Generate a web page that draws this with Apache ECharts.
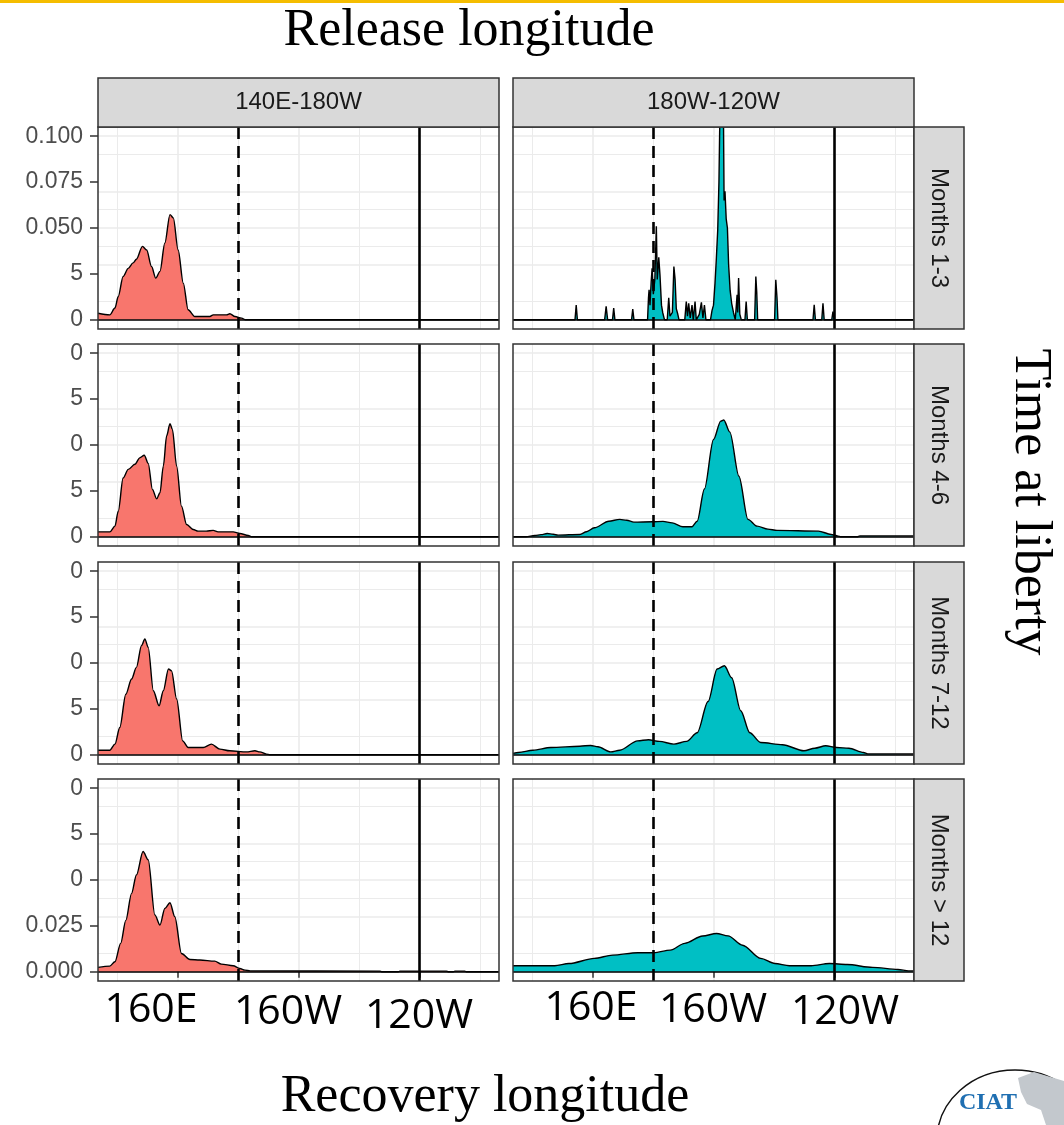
<!DOCTYPE html>
<html>
<head>
<meta charset="utf-8">
<title>Recovery longitude by release longitude and time at liberty</title>
<script src="https://cdn.jsdelivr.net/npm/echarts@6/dist/echarts.min.js"></script>
<style>
  html, body { margin: 0; padding: 0; background: #ffffff; }
  #chart { width: 1064px; height: 1125px; }
</style>
</head>
<body>
<div id="chart"></div>
<script>
const releaseBands = ["140E-180W", "180W-120W"];
const libertyBands = ["Months 1-3", "Months 4-6", "Months 7-12", "Months > 12"];
const yTickValues = [0, 0.025, 0.05, 0.075, 0.1];
const yMinorValues = [0.0125, 0.0375, 0.0625, 0.0875];
// tick labels as they appear (partly covered in the source picture)
const yTickLabels = [
  ["0", "5", "0.050", "0.075", "0.100"],
  ["0", "5", "0", "5", "0"],
  ["0", "5", "0", "5", "0"],
  ["0.000", "0.025", "0", "5", "0"]
];
const xTickValues = [160, 200, 240];
const xMinorValues = [140, 180, 220, 260];
const bigLonLabels = ["160E", "160W", "120W"];
const dateLineLon = 180;
const boundaryLon = 240;

// density of recovery longitude (deg, 0-360) — release 140E-180W
const east13 = [[133.7,0.0036],[137.6,0.0027],[139.3,0.0064],[140.4,0.0127],[142,0.0236],[143.7,0.028],[145.3,0.031],[146.4,0.033],[148.4,0.040],[149.8,0.038],[151.4,0.029],[152.8,0.0227],[154.2,0.0264],[155.8,0.0418],[157.5,0.0573],[158.6,0.0555],[160.2,0.038],[161.9,0.020],[163.5,0.0055],[165.7,0.0018],[170.7,0.0018],[171.8,0.0027],[176.2,0.0027],[177.3,0.0033],[179,0.0018],[181.2,0.0009],[182.5,0],[266.3,0]];
const east46 = [[133.7,0.0027],[137.6,0.0027],[139.3,0.0058],[140.4,0.014],[142,0.032],[143.7,0.0367],[145.9,0.0395],[147.5,0.043],[149,0.0444],[150.3,0.040],[151.7,0.0258],[153.1,0.0207],[154.2,0.024],[155.3,0.0385],[156.4,0.055],[157.5,0.0616],[158.3,0.0585],[159.7,0.0385],[161.3,0.0167],[163,0.0067],[165.2,0.004],[166.8,0.0031],[169.5,0.0031],[171.8,0.0035],[173.4,0.0027],[178.4,0.0027],[180.6,0.0018],[183.4,0.0007],[184.5,0],[266.3,0]];
const east712 = [[133.7,0.0025],[137.6,0.0025],[139.3,0.0058],[140.9,0.0149],[142.9,0.033],[144.8,0.0413],[146.4,0.0476],[148.1,0.0595],[149.2,0.0631],[150.3,0.0585],[152,0.0349],[153.9,0.0267],[155.3,0.0349],[157,0.0467],[158,0.0458],[159.7,0.0304],[161.7,0.0076],[163.5,0.004],[168.5,0.004],[171.2,0.0058],[174,0.0031],[177.3,0.0022],[182.8,0.0016],[185.6,0.0022],[187.2,0.0016],[189.4,0.0004],[190.5,0],[266.3,0]];
const east12p = [[133.7,0.0024],[137.6,0.0031],[139.3,0.0055],[141.2,0.0155],[142.9,0.028],[144.8,0.0427],[146.4,0.0527],[148.6,0.0655],[150.3,0.061],[152.5,0.031],[154.2,0.0255],[155.8,0.0345],[157.5,0.0376],[159.1,0.030],[161.3,0.010],[164.1,0.0067],[167.4,0.0064],[172.3,0.0058],[174.5,0.0042],[178.4,0.0033],[180.6,0.0018],[182.3,0.0009],[184,0.0005],[226.9,0.0004],[227.5,0],[233,0],[233.5,0.0004],[248.9,0.0004],[249.5,0],[251.2,0],[251.7,0.0004],[255,0.0004],[255.5,0],[266.3,0]];

// release 180W-120W
const west13 = [[133.7,0],[154.2,0],[154.6,0.008],[155,0],[164,0],[164.5,0.0073],[165,0],[166.6,0],[167,0.0064],[167.4,0],[172.9,0],[173.3,0.0058],[173.7,0],[178.2,0],[178.5,0.012],[178.7,0.0164],[179,0.008],[179.4,0.021],[179.7,0.028],[180.1,0.014],[180.6,0.022],[181.1,0.051],[181.4,0.022],[181.9,0.034],[182.3,0.0245],[182.8,0.008],[183.2,0.004],[183.8,0],[184.7,0],[185.2,0.012],[185.6,0.002],[186.4,0.004],[186.9,0.029],[187.3,0.022],[187.7,0.006],[188.2,0.003],[188.6,0],[190.5,0],[191,0.010],[191.4,0.002],[191.8,0.009],[192.3,0.001],[192.9,0.008],[193.3,0],[193.9,0.010],[194.3,0],[195.3,0.003],[196,0.0095],[196.5,0.001],[197,0.008],[197.5,0],[199,0],[199.5,0.005],[200,0.008],[200.5,0.02],[200.9,0.032],[201.4,0.049],[201.8,0.075],[202.1,0.11],[202.5,0.15],[203,0.15],[203.3,0.11],[203.5,0.065],[203.8,0.07],[204.2,0.055],[204.6,0.05],[205,0.03],[205.5,0.016],[206,0.009],[206.6,0.004],[207.2,0],[207.5,0],[207.8,0.0136],[208,0.004],[208.3,0.0227],[208.7,0.003],[209.2,0],[210.4,0],[210.8,0.010],[211.2,0],[213.6,0],[214,0.0236],[214.3,0.015],[214.6,0],[220.2,0],[220.6,0.0218],[221,0.012],[221.3,0],[232.9,0],[233.3,0.0082],[233.7,0],[235.8,0],[236.2,0.009],[236.6,0],[239.1,0],[239.5,0.0045],[239.9,0],[266.3,0]];
const west46 = [[133.7,0],[138,0],[140.9,0.0007],[143,0.0012],[145,0.0018],[147,0.0014],[148.6,0.0009],[155.8,0.0013],[158,0.0028],[160.6,0.0049],[165.4,0.0085],[169,0.0095],[171.3,0.009],[173.7,0.008],[179.7,0.0082],[183.3,0.0084],[186.3,0.0076],[189.9,0.0055],[192.9,0.0055],[194.6,0.0085],[197,0.026],[200,0.053],[202.4,0.063],[203.4,0.0636],[205.4,0.057],[208.4,0.033],[211.4,0.0095],[214.4,0.0058],[218,0.0042],[221,0.0035],[234.7,0.0031],[238.9,0.0013],[241.2,0.0004],[242,0],[247.5,0],[248.4,0.0005],[266.3,0.0005]];
const west712 = [[133.7,0.0008],[135.5,0.0013],[140.3,0.0025],[146.2,0.004],[155.8,0.0047],[159.4,0.0051],[161.8,0.0044],[166,0.0016],[169,0.0025],[174.9,0.0076],[178.5,0.0082],[182.1,0.0073],[186.9,0.0058],[191.1,0.0073],[194.6,0.012],[198.2,0.029],[201.2,0.0467],[203.6,0.0485],[206,0.042],[209,0.024],[212,0.012],[215.6,0.0067],[222.8,0.0055],[229.9,0.0022],[233.5,0.0036],[237.1,0.0049],[240.7,0.004],[244.8,0.0036],[249.6,0.0013],[251,0.0005],[266.3,0.0005]];
const west12p = [[133.7,0.0033],[147.5,0.0033],[152.2,0.0045],[160.6,0.0073],[166.6,0.0091],[174.9,0.0104],[180.3,0.0104],[185.7,0.0118],[190.5,0.0155],[196.4,0.0195],[201,0.0209],[204.8,0.0196],[209.6,0.0145],[215.6,0.0073],[220.3,0.0045],[225.1,0.0033],[232.3,0.0033],[238.3,0.0045],[244.2,0.004],[252.6,0.0024],[261,0.0013],[264.5,0.0005],[266.3,0.0005]];

const panelData = [
  [east13, west13],
  [east46, west46],
  [east712, west712],
  [east12p, west12p]
];
const bandColors = ["#F8766D", "#00BFC4"];

// layout
const colLeft = [98, 513];
const colWidth = 401;
const rowTop = [127, 344, 562, 779];
const rowHeight = 202;
const stripTop = 78;
const stripSize = 49;
const sideStripWidth = 50;
const lonRange = [133.7, 266.3];
const densRange = [-0.005, 0.105];
const bigLabelPos = [
  [[151, 1010], [288, 1012], [419, 1016]],
  [[591, 1008], [713, 1010], [845, 1012]]
];

const sansFont = "Liberation Sans, Arial, sans-serif";
const serifFont = "Liberation Serif, Times New Roman, serif";

function gridLines() {
  const major = { color: "#ebebeb", width: 1.6, type: "solid" };
  const minor = { color: "#ebebeb", width: 1, type: "solid" };
  return [
    ...yTickValues.map((v) => ({ yAxis: v, lineStyle: major })),
    ...yMinorValues.map((v) => ({ yAxis: v, lineStyle: minor })),
    ...xTickValues.map((v) => ({ xAxis: v, lineStyle: major })),
    ...xMinorValues.map((v) => ({ xAxis: v, lineStyle: minor }))
  ];
}

function buildPanels() {
  const grids = [];
  const xAxes = [];
  const yAxes = [];
  const series = [];

  libertyBands.forEach((_, r) => {
    releaseBands.forEach((__, c) => {
      const idx = grids.length;
      grids.push({
        left: colLeft[c], top: rowTop[r], width: colWidth, height: rowHeight,
        show: true, backgroundColor: "transparent",
        borderColor: "#333333", borderWidth: 1.5, z: 10
      });
      xAxes.push({
        gridIndex: idx, type: "value", min: lonRange[0], max: lonRange[1],
        axisLine: { show: false }, splitLine: { show: false },
        axisLabel: { show: false },
        axisTick: {
          show: r === libertyBands.length - 1, customValues: xTickValues,
          length: 6, lineStyle: { color: "#333333", width: 1.5 }
        }
      });
      yAxes.push({
        gridIndex: idx, type: "value", min: densRange[0], max: densRange[1],
        axisLine: { show: false }, splitLine: { show: false },
        axisTick: {
          show: c === 0, customValues: yTickValues,
          length: 8, lineStyle: { color: "#333333", width: 1.5 }
        },
        axisLabel: {
          show: c === 0, customValues: yTickValues,
          color: "#4d4d4d", fontSize: 23, fontFamily: sansFont, margin: 15,
          formatter: (v) => {
            const k = yTickValues.findIndex((t) => Math.abs(t - v) < 1e-9);
            return k < 0 ? "" : yTickLabels[r][k];
          }
        }
      });
      series.push({
        type: "line", xAxisIndex: idx, yAxisIndex: idx, data: [], silent: true,
        markLine: { z: 0, silent: true, symbol: "none", label: { show: false }, data: gridLines() }
      });
      series.push({
        type: "line", xAxisIndex: idx, yAxisIndex: idx, z: 2,
        data: panelData[r][c], symbol: "none",
        smooth: r === 0 && c === 1 ? false : 0.3, smoothMonotone: "x",
        lineStyle: { color: "#000000", width: 1.4 },
        areaStyle: { color: bandColors[c], opacity: 1 },
        markLine: {
          silent: true, symbol: "none", label: { show: false },
          data: [
            { xAxis: dateLineLon, lineStyle: { color: "#000", width: 2.6, type: [12, 7] } },
            { xAxis: boundaryLon, lineStyle: { color: "#000", width: 2.6, type: "solid" } },
            { yAxis: 0, lineStyle: { color: "#000", width: 1.5, type: "solid" } }
          ]
        }
      });
    });
  });
  return { grids, xAxes, yAxes, series };
}

function buildGraphics() {
  const items = [];
  items.push({ type: "rect", shape: { x: 0, y: 0, width: 1064, height: 3 }, style: { fill: "#f5bd00" }, z: 30 });

  releaseBands.forEach((label, c) => {
    items.push({
      type: "rect", z: 30,
      shape: { x: colLeft[c], y: stripTop, width: colWidth, height: stripSize },
      style: { fill: "#d9d9d9", stroke: "#333333", lineWidth: 1.5 }
    });
    items.push({
      type: "text", z: 31, x: colLeft[c] + colWidth / 2, y: stripTop + stripSize / 2,
      style: { text: label, fontSize: 24, fontFamily: sansFont, fill: "#1a1a1a", align: "center", verticalAlign: "middle" }
    });
  });

  const sideX = colLeft[1] + colWidth;
  libertyBands.forEach((label, r) => {
    items.push({
      type: "rect", z: 30,
      shape: { x: sideX, y: rowTop[r], width: sideStripWidth, height: rowHeight },
      style: { fill: "#d9d9d9", stroke: "#333333", lineWidth: 1.5 }
    });
    items.push({
      type: "text", z: 31, x: sideX + sideStripWidth / 2, y: rowTop[r] + rowHeight / 2,
      rotation: -Math.PI / 2,
      style: { text: label, fontSize: 24, fontFamily: sansFont, fill: "#1a1a1a", align: "center", verticalAlign: "middle" }
    });
  });

  bigLabelPos.forEach((col) => {
    col.forEach((pos, i) => {
      items.push({
        type: "text", z: 31, x: pos[0], y: pos[1],
        style: { text: bigLonLabels[i], fontSize: 41, fontFamily: "Open Sans, Noto Sans, sans-serif", fill: "#000", align: "center", verticalAlign: "middle" }
      });
    });
  });

  items.push({
    type: "text", z: 31, x: 469, y: 31,
    style: { text: "Release longitude", fontSize: 52, fontFamily: serifFont, fill: "#000", align: "center", verticalAlign: "middle" }
  });
  items.push({
    type: "text", z: 31, x: 485, y: 1097,
    style: { text: "Recovery longitude", fontSize: 52, fontFamily: serifFont, fill: "#000", align: "center", verticalAlign: "middle" }
  });
  items.push({
    type: "text", z: 31, x: 1030, y: 502, rotation: -Math.PI / 2,
    style: { text: "Time at liberty", fontSize: 52, fontFamily: serifFont, fill: "#000", align: "center", verticalAlign: "middle" }
  });

  // CIAT logo corner
  items.push({
    type: "ellipse", z: 30, shape: { cx: 1015, cy: 1140, rx: 78, ry: 70 },
    style: { fill: "#ffffff", stroke: "#111111", lineWidth: 1.5 }
  });
  items.push({
    type: "polygon", z: 31,
    shape: { points: [[1018, 1078], [1034, 1072], [1064, 1081], [1064, 1125], [1046, 1125], [1041, 1110], [1027, 1104], [1021, 1092]] },
    style: { fill: "#c3c8cd" }
  });
  items.push({
    type: "text", z: 32, x: 988, y: 1103,
    style: { text: "CIAT", fontSize: 24, fontWeight: "bold", fontFamily: serifFont, fill: "#1f6fb2", align: "center", verticalAlign: "middle" }
  });
  return items;
}

function renderChart() {
  const chart = echarts.init(document.getElementById("chart"), null, { renderer: "canvas" });
  const panels = buildPanels();
  chart.setOption({
    animation: false,
    backgroundColor: "#ffffff",
    grid: panels.grids,
    xAxis: panels.xAxes,
    yAxis: panels.yAxes,
    series: panels.series,
    graphic: buildGraphics()
  });
}

renderChart();
</script>
</body>
</html>
